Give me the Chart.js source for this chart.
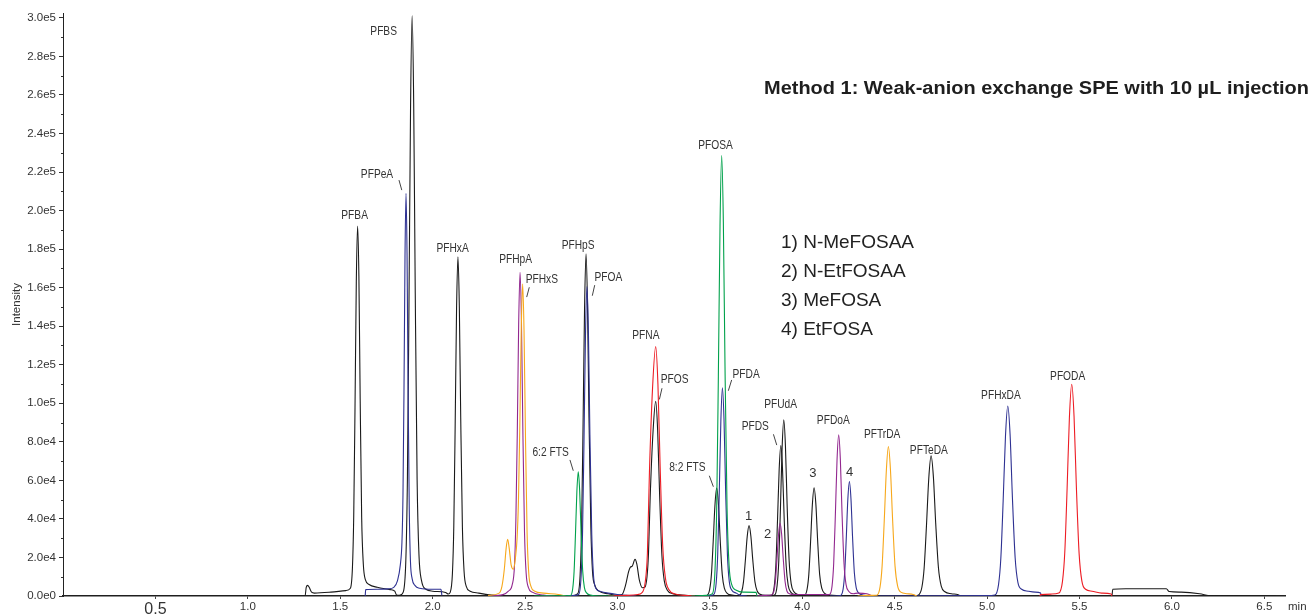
<!DOCTYPE html>
<html>
<head>
<meta charset="utf-8">
<script src="https://cdn.jsdelivr.net/npm/chart.js@4.4.1/dist/chart.umd.min.js"></script>
<style>
  html, body { margin: 0; padding: 0; background: #fff; }
  #wrap { position: relative; width: 1311px; height: 614px; }
</style>
</head>
<body>
<div id="wrap"><canvas id="chrom"></canvas></div>
<script>
// retention time (min), intensity (counts) per MRM channel colour; null breaks a segment
const blackTrace = [
  [0.03,0],[1.30,0],[1.31,0],[1.316,4500],[1.324,5500],[1.332,4500],[1.345,2000],[1.36,1500],[1.45,2000],[1.53,2800],
  [1.555,4000],[1.566,14500],[1.573,41000],[1.580,97500],[1.587,163000],[1.594,192000],[1.601,166000],[1.608,102000],[1.616,41000],[1.625,16500],[1.636,8500],[1.656,6000],[1.70,4500],[1.77,3300],[1.795,2500],[1.805,500],[1.82,300],
  [1.841,2000],[1.855,18500],[1.8635,60500],[1.872,151000],[1.8805,253000],[1.889,301000],[1.8975,256000],[1.906,157000],[1.916,60500],[1.926,21500],[1.940,8000],[1.964,3500],[2.00,2500],[2.07,1800],[2.085,1000],
  [2.095,1900],[2.107,11500],[2.1145,36000],[2.122,89000],[2.1295,149000],[2.137,176000],[2.1445,150000],[2.152,92500],[2.161,36000],[2.170,13000],[2.182,5000],[2.203,2500],[2.25,1500],[2.32,500],[2.40,0],[2.74,0],
  [2.785,1200],[2.798,10900],[2.806,35800],[2.814,89000],[2.822,149000],[2.830,177500],[2.838,151000],[2.846,92500],[2.856,35800],[2.865,12700],[2.878,5500],[2.900,2500],[2.95,1200],[3.00,400],
  [3.025,800],[3.045,6000],[3.06,12500],[3.07,15000],[3.08,15500],[3.095,19000],[3.105,16500],[3.118,8500],[3.135,4300],
  [3.148,4500],[3.160,10000],[3.168,22000],[3.177,51000],[3.193,86000],[3.207,101000],[3.2175,86000],[3.228,53000],[3.2406,21000],[3.2532,8000],[3.270,3000],[3.299,1200],[3.35,500],[3.45,0],
  [3.484,300],[3.499,3400],[3.5085,11200],[3.518,28000],[3.5275,47000],[3.537,56000],[3.5465,47600],[3.556,29100],[3.567,11200],[3.579,3900],[3.594,1400],[3.620,500],
  [3.656,200],[3.672,2200],[3.682,7300],[3.692,18300],[3.702,30700],[3.712,36500],[3.722,31000],[3.732,19000],[3.744,7300],[3.756,2600],[3.772,900],[3.800,300],
  [3.834,400],[3.848,4700],[3.857,15600],[3.866,39000],[3.875,65500],[3.884,78000],[3.893,66300],[3.902,40600],[3.913,15600],[3.924,5500],[3.938,2000],[3.963,600],[3.99,300],
  [4.011,300],[4.026,3400],[4.0355,11200],[4.045,28100],[4.0545,47200],[4.064,56200],[4.0735,47800],[4.083,29200],[4.094,11200],[4.106,3900],[4.121,1400],[4.148,450],[4.25,100],[4.60,0],
  [4.627,400],[4.647,4400],[4.6595,14500],[4.672,36400],[4.6845,61000],[4.697,72700],[4.7095,61800],[4.722,37800],[4.737,14500],[4.752,5100],[4.772,2200],[4.807,1200],[4.84,800],[4.86,0],
  [5.67,0],[5.676,500],[5.68,3500],[5.75,3800],[5.85,3800],[5.97,3800],[5.985,2300],[6.05,2000],[6.15,1200],[6.21,100],[6.56,0]
];
const blackUdaTrace = [
  [3.80,0],[3.850,500],[3.864,5500],[3.873,18300],[3.882,45700],[3.891,76800],[3.900,91400],[3.909,77700],[3.918,47500],[3.929,18300],[3.940,6400],[3.954,2300],[3.979,700],[4.02,0]
];
const blueTrace = [
  [1.635,0],[1.638,3300],[1.70,3500],[1.76,3700],[1.79,4500],[1.81,8000],[1.825,16000],[1.834,28000],[1.8395,52000],[1.845,106000],[1.8505,176000],[1.856,209000],[1.8615,178000],[1.867,110000],[1.8736,45000],[1.880,18000],[1.889,9000],[1.904,5500],[1.93,4000],[2.00,3500],[2.045,3500],[2.05,300],[2.06,null],
  [2.70,0],[2.75,200],[2.790,800],[2.803,9600],[2.811,32000],[2.819,80300],[2.827,135000],[2.835,160600],[2.843,136500],[2.851,83500],[2.861,32000],[2.870,11200],[2.883,4000],[2.905,2500],[2.95,1500],[3.00,800],[3.05,300],[3.10,0],[3.11,null],
  [3.45,0],[3.50,300],[3.520,600],[3.534,6500],[3.5425,21600],[3.551,54000],[3.5595,90700],[3.568,108000],[3.5765,91800],[3.585,56200],[3.595,21600],[3.605,7600],[3.619,3000],[3.643,1500],[3.66,500],[3.70,0],[3.71,null],
  [4.15,0],[4.207,300],[4.221,3600],[4.2295,11900],[4.238,29700],[4.2465,49900],[4.255,59400],[4.2635,50500],[4.272,30900],[4.282,11900],[4.292,4200],[4.306,1500],[4.330,500],[4.40,0],[5.00,200],
  [5.042,500],[5.062,5900],[5.0745,19700],[5.087,49300],[5.0995,82800],[5.112,98600],[5.1245,83800],[5.137,51300],[5.152,19700],[5.167,6900],[5.187,3500],[5.222,2500],[5.26,2000],[5.29,1500],[5.292,0]
];
const purpleTrace = [
  [2.30,0],[2.38,700],[2.41,2500],[2.431,6000],[2.443,16000],[2.4505,40000],[2.458,84000],[2.4655,141000],[2.473,168000],[2.4805,143000],[2.488,87400],[2.497,33600],[2.506,11800],[2.518,4500],[2.539,2000],[2.60,500],[2.66,0],[2.67,null],
  [3.75,0],[3.80,300],[3.832,500],[3.846,2300],[3.8545,7500],[3.863,18900],[3.8715,31700],[3.880,37700],[3.8885,32000],[3.897,19600],[3.907,7500],[3.917,2600],[3.931,1200],[3.955,800],[4.05,800],[4.12,700],
  [4.147,800],[4.161,5000],[4.170,16700],[4.179,41800],[4.188,70200],[4.197,83600],[4.206,71100],[4.215,43500],[4.226,16700],[4.237,5900],[4.251,2500],[4.276,1200],[4.30,1500],[4.35,1200],[4.38,0]
];
const orangeTrace = [
  [2.30,300],[2.36,1500],[2.375,5000],[2.388,14000],[2.398,25000],[2.406,29400],[2.414,25000],[2.425,16000],[2.437,13900],[2.447,19000],[2.457,30000],[2.4645,50000],[2.472,90000],[2.4795,138000],[2.487,162000],[2.4945,138000],[2.502,85000],[2.511,33000],[2.520,12000],[2.532,5000],[2.553,2500],[2.60,1500],[2.68,800],[2.72,0],[2.73,null],
  [4.30,0],[4.35,300],[4.403,400],[4.421,4700],[4.432,15500],[4.4435,38800],[4.455,65100],[4.466,77500],[4.477,65900],[4.4885,40300],[4.502,15500],[4.5155,5400],[4.5335,2000],[4.565,1200],[4.60,800],[4.62,0]
];
const greenTrace = [
  [2.55,0],[2.70,100],[2.746,300],[2.758,3900],[2.7655,12900],[2.773,32300],[2.7805,54200],[2.788,64500],[2.7955,54800],[2.803,33500],[2.812,12900],[2.821,4500],[2.833,1600],[2.854,500],[2.90,0],[2.98,0],[2.99,null],
  [3.40,0],[3.48,300],[3.514,1200],[3.528,13700],[3.537,45700],[3.546,114000],[3.555,192000],[3.564,228500],[3.573,194000],[3.582,119000],[3.593,45700],[3.604,16000],[3.618,6000],[3.643,3000],[3.68,2000],[3.75,1900],[3.755,0]
];
const redTrace = [
  [2.95,0],[3.05,300],[3.11,800],[3.130,1500],[3.150,7000],[3.162,22000],[3.173,64000],[3.190,108000],[3.207,129400],[3.219,110000],[3.231,67300],[3.245,25900],[3.260,9000],[3.279,3200],[3.313,1000],[3.36,300],[3.42,0],[3.43,null],
  [5.285,0],[5.29,700],[5.35,1000],[5.388,1500],[5.408,7600],[5.4205,22800],[5.433,55700],[5.4455,92700],[5.458,109900],[5.4705,93400],[5.483,57100],[5.498,22000],[5.513,7700],[5.533,3500],[5.568,2500],[5.62,1500],[5.672,1000],[5.675,0]
];

// axis ticks
const timeTicks = [0.5, 1.0, 1.5, 2.0, 2.5, 3.0, 3.5, 4.0, 4.5, 5.0, 5.5, 6.0, 6.5];
const countTicks = [0, 20000, 40000, 60000, 80000, 100000, 120000, 140000, 160000, 180000, 200000, 220000, 240000, 260000, 280000, 300000];

// compound names and where they sit (time, intensity)
const peakNames = ['PFBS','PFPeA','PFBA','PFHxA','PFHpA','PFHxS','PFHpS','PFOA','PFOSA','PFNA','PFOS','6:2 FTS','8:2 FTS','PFDA','PFUdA','PFDS','1','2','3','4','PFDoA','PFTrDA','PFTeDA','PFHxDA','PFODA'];
const peakLabelTimes = [1.735,1.699,1.578,2.108,2.449,2.591,2.787,2.951,3.531,3.154,3.309,2.638,3.378,3.696,3.883,3.746,3.710,3.812,4.058,4.256,4.168,4.432,4.685,5.075,5.436];
const peakLabelCounts = [292800,218400,197100,180000,174300,163900,181700,165100,233600,135000,112100,74400,66600,114700,99100,87800,41500,32200,63700,64300,91200,83500,75200,103800,113800];
// short pointer strokes from label to peak: [t1, I1, t2, I2]
const leaderLines = [
  [1.818,215800,1.833,210600],
  [2.523,160200,2.509,155100],
  [2.877,161300,2.864,155800],
  [3.241,107800,3.227,102000],
  [2.743,70600,2.761,65000],
  [3.497,62400,3.519,56700],
  [3.618,112100,3.600,106500],
  [3.844,83900,3.862,78300]
];
const keyLines = ['1) N-MeFOSAA','2) N-EtFOSAA','3) MeFOSA','4) EtFOSA'];
const titleText = 'Method 1: Weak-anion exchange SPE with 10 \u00b5L injection';

const FONT = "'Liberation Sans', Arial, Helvetica, sans-serif";
const toXY = arr => arr.map(p => ({ x: p[0], y: p[1] }));

function trace(data, color) {
  return {
    data: toXY(data),
    borderColor: color,
    borderWidth: 1.1,
    pointRadius: 0,
    fill: false,
    spanGaps: false,
    cubicInterpolationMode: 'monotone'
  };
}

const annotate = {
  id: 'annotate',
  afterDraw(chart) {
    const { ctx, scales: { x, y } } = chart;
    ctx.save();

    // minor ticks halfway between the labelled ones
    ctx.strokeStyle = '#333';
    ctx.lineWidth = 1;
    for (let i = 0; i < countTicks.length - 1; i++) {
      const v = (countTicks[i] + countTicks[i + 1]) / 2;
      const py = Math.round(y.getPixelForValue(v)) + 0.5;
      ctx.beginPath();
      ctx.moveTo(x.left - 2, py);
      ctx.lineTo(x.left, py);
      ctx.stroke();
    }

    // peak names
    ctx.fillStyle = '#333';
    ctx.textAlign = 'center';
    ctx.textBaseline = 'middle';
    peakNames.forEach((name, i) => {
      const px = x.getPixelForValue(peakLabelTimes[i]);
      const py = y.getPixelForValue(peakLabelCounts[i]);
      ctx.save();
      ctx.translate(px, py);
      if (name.length === 1) {
        ctx.font = '13px ' + FONT;
      } else {
        ctx.font = '12px ' + FONT;
        ctx.scale(0.85, 1);
      }
      ctx.fillText(name, 0, 0);
      ctx.restore();
    });

    ctx.strokeStyle = '#444';
    ctx.lineWidth = 1;
    leaderLines.forEach(l => {
      ctx.beginPath();
      ctx.moveTo(x.getPixelForValue(l[0]), y.getPixelForValue(l[1]));
      ctx.lineTo(x.getPixelForValue(l[2]), y.getPixelForValue(l[3]));
      ctx.stroke();
    });

    // compound key
    ctx.textAlign = 'left';
    ctx.fillStyle = '#222';
    ctx.font = '19px ' + FONT;
    keyLines.forEach((t, i) => ctx.fillText(t, 781, 243 + i * 29));

    // method title, stretched to span 764..1309
    ctx.font = 'bold 18px ' + FONT;
    ctx.fillStyle = '#1e1e1e';
    const tw = ctx.measureText(titleText).width;
    ctx.save();
    ctx.translate(764, 89);
    ctx.scale(545 / tw, 1);
    ctx.fillText(titleText, 0, 0);
    ctx.restore();

    // time unit at the end of the axis
    ctx.font = '11.5px ' + FONT;
    ctx.fillStyle = '#333';
    ctx.fillText('min', 1288, 607);

    ctx.restore();
  }
};

new Chart(document.getElementById('chrom'), {
  type: 'line',
  data: {
    datasets: [
      trace(greenTrace, '#00a14b'),
      trace(orangeTrace, '#f7a81b'),
      trace(purpleTrace, '#92278f'),
      trace(redTrace, '#ed1c24'),
      trace(blueTrace, '#2e3192'),
      trace(blackUdaTrace, '#1a1a1a'),
      trace(blackTrace, '#1a1a1a')
    ]
  },
  options: {
    responsive: true,
    maintainAspectRatio: false,
    animation: false,
    events: [],
    layout: { padding: { top: 13, right: 26, left: 0, bottom: 0 } },
    plugins: { legend: { display: false }, tooltip: { enabled: false } },
    scales: {
      x: {
        type: 'linear',
        min: 0,
        max: 6.612,
        afterFit: s => { s.height = 18; },
        afterBuildTicks: s => { s.ticks = timeTicks.map(v => ({ value: v })); },
        border: { display: true, color: '#222', width: 1.5 },
        grid: { drawOnChartArea: false, drawTicks: true, tickLength: 3, tickColor: '#444' },
        ticks: {
          autoSkip: false,
          maxRotation: 0,
          padding: 1,
          color: '#333',
          font: c => ({ family: FONT, size: c.tick && c.tick.value === 0.5 ? 16 : 11.5 }),
          callback: v => v.toFixed(1)
        }
      },
      y: {
        type: 'linear',
        min: 0,
        max: 302500,
        afterFit: s => { s.width = 63; },
        afterBuildTicks: s => { s.ticks = countTicks.map(v => ({ value: v })); },
        border: { display: true, color: '#222', width: 1 },
        grid: { drawOnChartArea: false, drawTicks: true, tickLength: 4, tickColor: '#333' },
        title: {
          display: true,
          text: 'Intensity',
          color: '#333',
          font: { family: FONT, size: 11.5 },
          padding: { top: 10, bottom: 0 }
        },
        ticks: {
          autoSkip: false,
          padding: 3,
          color: '#333',
          font: { family: FONT, size: 11.5 },
          callback: v => v.toExponential(1).replace('+', '')
        }
      }
    }
  },
  plugins: [annotate]
});
</script>
</body>
</html>
